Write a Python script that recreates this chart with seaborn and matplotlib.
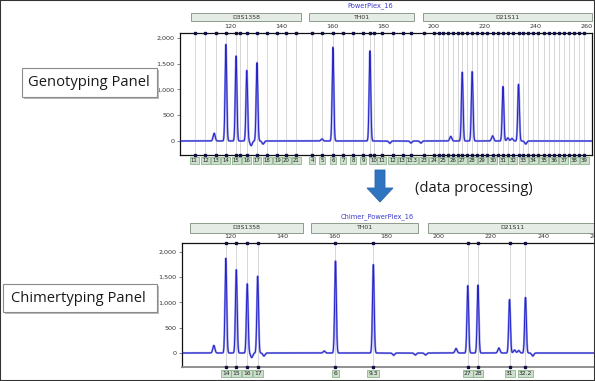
import numpy as np
import pandas as pd
import matplotlib
matplotlib.use("Agg")
import matplotlib.pyplot as plt
import matplotlib.transforms as mtransforms
from matplotlib.patches import Rectangle, Polygon
import seaborn as sns

# ---------------- data ----------------
# called allele peaks (size in bp, height in RFU)
peak_bp = [118.4, 122.4, 126.6, 130.6, 160.4, 174.9, 211.1, 215.0, 227.1, 233.2]
peak_rfu = [1875, 1650, 1370, 1520, 1820, 1750, 1335, 1345, 1058, 1100]
peak_label = ["14", "15", "16", "17", "6", "9.3", "27", "28", "31", "32.2"]

# minor artefact peaks / dips
minor_bp = [113.8, 156.1, 206.6, 223.0, 229.0, 230.6, 128.3, 133.0, 182.7, 191.0, 194.9, 236.0]
minor_rfu = [150, 40, 90, 100, 60, 50, -90, -60, -45, -40, -40, -60]

# allelic ladder bins (genotyping panel)
d3_bins = [106.4, 110.4, 114.4, 118.4, 122.4, 124.0, 126.6, 130.6, 134.6, 138.6, 142.0, 146.0]
d3_labels = ["11", "12", "13", "14", "15", "16", "17", "18", "19", "20", "21"]
d3_label_bp = [106.0, 110.4, 114.4, 118.4, 122.4, 126.6, 130.6, 134.6, 138.6, 142.0, 146.0]
th_bins = [152.2, 156.1, 160.4, 164.3, 168.2, 172.2, 174.9, 176.5, 179.6, 183.9, 187.8, 191.0]
th_labels = ["4", "5", "6", "7", "8", "9", "10", "11", "12", "13", "13.3"]
th_label_bp = [152.2, 156.1, 160.4, 164.3, 168.2, 172.2, 176.5, 179.6, 183.9, 187.6, 191.4]
d21_labels = ["23", "24", "25", "26", "27", "28", "29", "30", "31", "32",
              "33", "34", "35", "36", "37", "38", "39"]
d21_label_bp = [196.0, 199.9, 203.6, 207.4, 211.1, 215.0, 219.0, 223.1, 227.1, 231.0,
                235.0, 239.0, 243.0, 247.0, 251.0, 255.0, 259.0]
d21_half_bins = [202.0, 205.6, 209.3, 213.1, 217.0, 221.0, 225.1, 229.1, 233.2,
                 237.0, 241.0, 245.0, 249.0, 253.0, 257.0]

loci = ["D3S1358", "TH01", "D21S11"]
locus_start = [104.8, 151.0, 195.7]
locus_end = [147.8, 192.2, 262.0]

x_ticks = [120, 140, 160, 180, 200, 220, 240, 260]
y_ticks = [0, 500, 1000, 1500, 2000]
y_ticklabels = ["0", "500", "1,000", "1,500", "2,000"]

# ---------------- trace ----------------
bp = np.linspace(100, 263, 9000)
rfu = np.zeros_like(bp)
for p, h in zip(peak_bp, peak_rfu):
    rfu += h * np.exp(-0.5 * ((bp - p) / 0.32) ** 2)
for p, h in zip(minor_bp, minor_rfu):
    rfu += h * np.exp(-0.5 * ((bp - p) / 0.4) ** 2)
trace = pd.DataFrame({"bp": bp, "rfu": rfu})

# ---------------- figure ----------------
sns.set_style("white")
plt.rcParams["font.family"] = ["DejaVu Sans"]
W, H = 595, 381
fig = plt.figure(figsize=(W / 100, H / 100), dpi=100)

def px_axes(l, t, r, b):
    return fig.add_axes([l / W, 1 - b / H, (r - l) / W, (b - t) / H])

ax1 = px_axes(180, 33, 592, 155)
ax2 = px_axes(182, 243, 597, 367)

GRAY = "#d0d0d0"
BLUE = "#2323c8"

def style_axes(ax, xlim, ylim, box_y0, box_y1, bins, title, title_xy):
    ax.set_xlim(*xlim)
    ax.set_ylim(*ylim)
    for b in bins:
        ax.axvline(b, color=GRAY, lw=0.6, zorder=1)
    sns.lineplot(data=trace, x="bp", y="rfu", ax=ax, color="#9a9aea", lw=1.5,
                 zorder=2, estimator=None, sort=False)
    sns.lineplot(data=trace, x="bp", y="rfu", ax=ax, color=BLUE, lw=0.7,
                 zorder=3, estimator=None, sort=False)
    ax.set_xlabel("")
    ax.set_ylabel("")
    ax.set_xticks(x_ticks)
    ax.set_xticklabels([str(t) for t in x_ticks])
    ax.tick_params(axis="x", top=True, labeltop=True, bottom=False, labelbottom=False,
                   length=0, pad=3.0, labelsize=4.6, labelcolor="#333333")
    ax.set_yticks(y_ticks)
    ax.set_yticklabels(y_ticklabels)
    ax.tick_params(axis="y", left=True, length=2, width=0.5, pad=2,
                   labelsize=4.6, labelcolor="#333333", color="#555555")
    for s in ax.spines.values():
        s.set_color("#111111")
        s.set_linewidth(0.9)
    trans = mtransforms.blended_transform_factory(ax.transData, ax.transAxes)
    ax.plot(bins, [1.0] * len(bins), ls="", marker="s", ms=1.6, color="#111144",
            transform=trans, clip_on=False, zorder=5)
    ax.plot(bins, [0.0] * len(bins), ls="", marker="s", ms=1.6, color="#111144",
            transform=trans, clip_on=False, zorder=5)
    for name, s0, s1 in zip(loci, locus_start, locus_end):
        r = Rectangle((s0, box_y0), s1 - s0, box_y1 - box_y0, transform=trans,
                      facecolor="#e5ebe5", edgecolor="#8c9c8c", lw=0.7, clip_on=False)
        ax.add_patch(r)
        ax.text((s0 + min(s1, xlim[1])) / 2, (box_y0 + box_y1) / 2, name, transform=trans,
                ha="center", va="center", fontsize=4.4, color="#333333")
    fig.text(title_xy[0] / W, 1 - title_xy[1] / H, title, ha="center", va="center",
             fontsize=4.8, color="#3a3acc")
    return trans

def allele_box(ax, trans, x, y, s, size):
    ax.text(x, y, s, transform=trans, ha="center", va="center", fontsize=size,
            color="#222222", clip_on=False,
            bbox=dict(boxstyle="square,pad=0.2", facecolor="#cde0cd",
                      edgecolor="#7ea87e", lw=0.5))

# top: genotyping panel
top_bins = d3_bins + th_bins + d21_label_bp + d21_half_bins
t1 = style_axes(ax1, (100.4, 262.0), (-272, 2097), 1.098, 1.164,
                top_bins, "PowerPlex_16", (370, 6))
for lab, xb in zip(d3_labels + th_labels + d21_labels,
                   d3_label_bp + th_label_bp + d21_label_bp):
    allele_box(ax1, t1, xb, -0.045, lab, 3.5 if lab == "13.3" else 3.9)

# bottom: chimertyping panel
t2 = style_axes(ax2, (101.6, 260.6), (-277, 2178), 1.081, 1.161,
                peak_bp, "Chimer_PowerPlex_16", (377, 217))
ax2.spines["bottom"].set_color("#888888")
ax2.spines["bottom"].set_linewidth(1.3)
for lab, xb in zip(peak_label, peak_bp):
    allele_box(ax2, t2, xb, -0.05, lab, 4.3)

# ---------------- annotations ----------------
def panel_box(x0, y0, x1, y1, text, tx):
    shadow = Rectangle(((x0 + 2) / W, 1 - (y1 + 2) / H),
                       (x1 - x0) / W, (y1 - y0) / H, transform=fig.transFigure,
                       facecolor="#bbbbbb", edgecolor="none", zorder=8)
    fig.patches.append(shadow)
    box = Rectangle((x0 / W, 1 - y1 / H), (x1 - x0) / W, (y1 - y0) / H,
                    transform=fig.transFigure, facecolor="white",
                    edgecolor="#8a8a8a", lw=0.8, zorder=9)
    fig.patches.append(box)
    fig.text(tx / W, 1 - ((y0 + y1) / 2) / H, text, ha="left", va="center",
             fontsize=10.6, family=["Open Sans", "DejaVu Sans"], color="#1a1a1a",
             zorder=10)

panel_box(22, 68, 157, 97, "Genotyping Panel", 28)
panel_box(3, 284, 157, 312, "Chimertyping Panel", 11)

# arrow
arrow_px = [(375, 170), (385, 170), (385, 188), (393, 188), (380, 202), (367, 188), (375, 188)]
arrow = Polygon([(px / W, 1 - py / H) for px, py in arrow_px], closed=True,
                transform=fig.transFigure, facecolor="#2e74c0", edgecolor="#2a66aa",
                lw=0.6, zorder=9)
fig.patches.append(arrow)
fig.text(415 / W, 1 - 189 / H, "(data processing)", ha="left", va="center",
         fontsize=10.6, family=["Open Sans", "DejaVu Sans"], color="#1a1a1a")

# outer frame
fig.patches.append(Rectangle((0, 0), 1, 1, transform=fig.transFigure, fill=False,
                             edgecolor="#333333", lw=1.5, zorder=20))

fig.savefig("out.png", dpi=100)
